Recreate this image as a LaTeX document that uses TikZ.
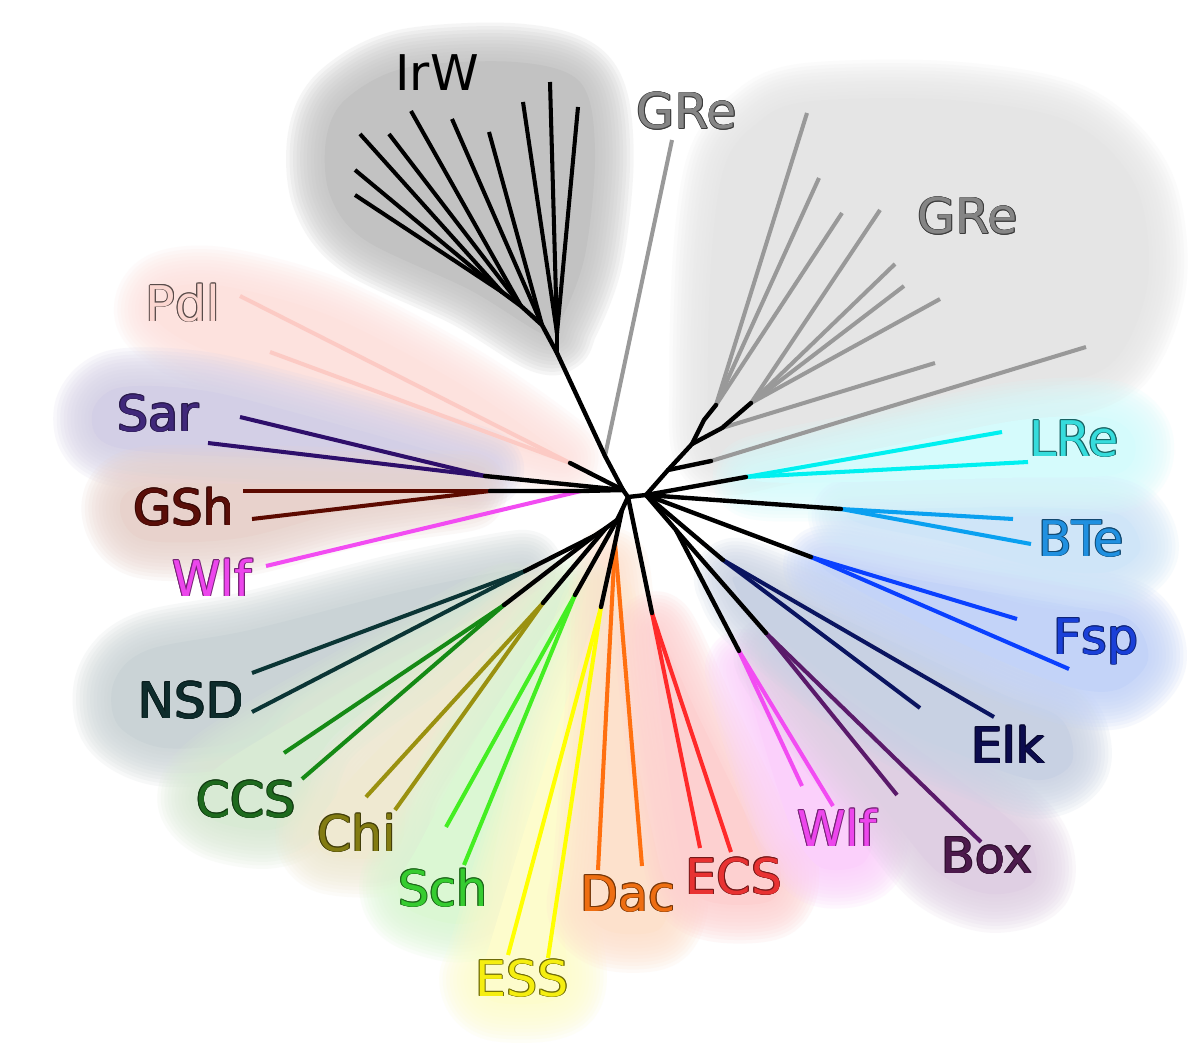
\documentclass[tikz,border=0pt]{standalone}
\usepackage{fontspec}
\setmainfont{DejaVu Sans}
\definecolor{bIrW}{HTML}{C2C2C2}
\definecolor{bGRe}{HTML}{E5E5E5}
\definecolor{bPdl}{HTML}{FDE2DE}
\definecolor{bSar}{HTML}{D3CFE6}
\definecolor{bGSh}{HTML}{E8D2CC}
\definecolor{bNSD}{HTML}{CAD3D6}
\definecolor{bCCS}{HTML}{D8EAD4}
\definecolor{bChi}{HTML}{EFE9D1}
\definecolor{bSch}{HTML}{DBF7D3}
\definecolor{bESS}{HTML}{FDFCCC}
\definecolor{bDac}{HTML}{FDE1CC}
\definecolor{bECS}{HTML}{FDD0D0}
\definecolor{bWlf}{HTML}{FBD0FB}
\definecolor{bBox}{HTML}{DFCFE3}
\definecolor{bElk}{HTML}{C8D1E3}
\definecolor{bFsp}{HTML}{C3D3F8}
\definecolor{bBTe}{HTML}{CFE5F8}
\definecolor{bLRe}{HTML}{D5FBFC}
\definecolor{lGRe}{HTML}{999999}
\definecolor{lPdl}{HTML}{FCCAC4}
\definecolor{lSar}{HTML}{2E0F6B}
\definecolor{lGSh}{HTML}{5C0A00}
\definecolor{lWlf}{HTML}{F24CF2}
\definecolor{lNSD}{HTML}{0B3535}
\definecolor{lCCS}{HTML}{158A15}
\definecolor{lChi}{HTML}{9A9110}
\definecolor{lSch}{HTML}{44EE22}
\definecolor{lESS}{HTML}{FFFF00}
\definecolor{lDac}{HTML}{FF7010}
\definecolor{lECS}{HTML}{FF2A2A}
\definecolor{lBox}{HTML}{5A1A6A}
\definecolor{lElk}{HTML}{0A1460}
\definecolor{lFsp}{HTML}{0A40FF}
\definecolor{lBTe}{HTML}{0AA0F0}
\definecolor{lLRe}{HTML}{00F0F0}
\definecolor{tGRe}{HTML}{858585}
\definecolor{tPdl}{HTML}{FBD6D0}
\definecolor{tSar}{HTML}{40287A}
\definecolor{tGSh}{HTML}{5A0E08}
\definecolor{tWlf}{HTML}{EC46EC}
\definecolor{tNSD}{HTML}{0E2C2C}
\definecolor{tCCS}{HTML}{1E6A1E}
\definecolor{tChi}{HTML}{827B12}
\definecolor{tSch}{HTML}{36CC30}
\definecolor{tESS}{HTML}{F5EE10}
\definecolor{tDac}{HTML}{EE6E12}
\definecolor{tECS}{HTML}{E83232}
\definecolor{tBox}{HTML}{4C1A4C}
\definecolor{tElk}{HTML}{0C0C4E}
\definecolor{tFsp}{HTML}{1A40D8}
\definecolor{tBTe}{HTML}{2090E0}
\definecolor{tLRe}{HTML}{36DCDC}
\tikzset{
  br/.style={line width=2.5pt,line cap=round,line join=round,black},
  tp/.style={line width=2.3pt,line cap=butt},
  lab/.style={anchor=base,inner sep=0pt,font=\fontsize{28}{30}\selectfont}
}
\newcommand\blob[2]{%
  \foreach \w in {44,40,36,32,28,24,20,16,12,8,4}{\draw[#1,line width=\w pt,opacity=0.15,line join=round] plot[smooth cycle,tension=0.55] coordinates {#2};}
  \fill[#1] plot[smooth cycle,tension=0.55] coordinates {#2};
}
\newcommand\lbl[6]{%
  \foreach \a in {0,45,...,315}{\node[lab,text=#5,shift={(\a:0.5pt)}] (#1-\a) at (#2,#3) {#6};}
  \node[lab,text=#4] (#1) at (#2,#3) {#6};
}
\begin{document}
\begin{tikzpicture}[x=0.02cm,y=-0.02cm]
\fill[white] (0,0) rectangle (1200,1054);
\useasboundingbox (0,0) rectangle (1200,1054);
% ---------- background blobs ----------
\blob{bGRe}{(755,125) (805,102) (950,100) (1070,122) (1135,185) (1148,280) (1115,360) (1045,388) (900,418) (780,450) (715,455) (708,380) (712,250) (725,165)}
\blob{bIrW}{(345,100) (405,68) (515,62) (580,82) (595,150) (585,255) (560,322) (545,335) (470,290) (365,240) (330,195) (326,140)}
\blob{bPdl}{(550,458) (460,432) (325,385) (205,350) (155,318) (165,290) (222,286) (330,316) (460,384) (555,450)}
\blob{bSar}{(475,470) (400,462) (250,458) (115,447) (92,415) (118,388) (200,390) (300,414) (468,462)}
\blob{bGSh}{(468,492) (350,510) (240,538) (145,540) (120,510) (142,486) (250,484) (400,488)}
\blob{bNSD}{(515,575) (420,620) (300,688) (248,738) (165,748) (118,725) (114,682) (148,650) (250,630) (400,592) (510,570)}
\blob{bCCS}{(496,614) (420,672) (330,740) (300,812) (268,830) (218,822) (196,800) (212,772) (280,728) (490,610)}
\blob{bChi}{(538,614) (470,702) (412,790) (402,842) (378,858) (328,855) (314,835) (330,804) (382,746) (530,610)}
\blob{bSch}{(570,608) (522,720) (494,856) (490,910) (458,924) (410,910) (398,884) (418,846) (474,742) (564,604)}
\blob{bESS}{(598,624) (576,760) (562,900) (568,982) (548,1002) (495,1002) (478,982) (488,950) (534,800) (592,626)}
\blob{bDac}{(610,566) (626,700) (658,858) (670,896) (658,930) (612,932) (586,910) (592,860) (604,700)}
\blob{bECS}{(656,630) (700,720) (758,838) (780,866) (772,900) (722,904) (692,890) (678,840) (659,700)}
\blob{bWlf}{(748,670) (800,742) (856,792) (874,830) (862,864) (822,868) (796,838) (778,790) (749,692)}
\blob{bBox}{(778,654) (880,722) (988,802) (1030,842) (1034,882) (990,894) (938,872) (886,810) (792,690)}
\blob{bElk}{(744,578) (850,622) (998,692) (1060,718) (1072,762) (1036,780) (964,756) (884,718) (762,622) (736,588)}
\blob{bFsp}{(834,564) (930,582) (1060,604) (1130,620) (1148,660) (1116,690) (1060,684) (950,638) (834,576)}
\blob{bBTe}{(854,512) (950,508) (1060,508) (1122,516) (1140,550) (1108,572) (1040,568) (950,543) (862,524)}
\blob{bLRe}{(764,472) (900,444) (1020,420) (1106,418) (1135,442) (1116,474) (1000,478) (850,482) (764,482)}
% ---------- coordinates ----------
\coordinate (A) at (623,490); \coordinate (C) at (628,497); \coordinate (B) at (646,495);
\coordinate (N1) at (605,456);
\coordinate (I0) at (557,353); \coordinate (Ia) at (557,333); \coordinate (Ib) at (542,325);
\coordinate (Ic) at (521,306); \coordinate (Id) at (502,292);
\coordinate (t1) at (360,134); \coordinate (t2) at (389,134); \coordinate (t3) at (411,111);
\coordinate (t4) at (452,119); \coordinate (t5) at (489,132); \coordinate (t6) at (523,102);
\coordinate (t7) at (550,82); \coordinate (t8) at (578,107); \coordinate (t9) at (355,170);
\coordinate (t10) at (355,195);
\coordinate (g0) at (672,140);
\coordinate (P) at (570,463); \coordinate (pd1) at (240,296); \coordinate (pd2) at (270,352);
\coordinate (S) at (485,476); \coordinate (sa1) at (240,417); \coordinate (sa2) at (208,443);
\coordinate (W) at (581,491); \coordinate (G) at (490,491); \coordinate (gs1) at (243,491); \coordinate (gs2) at (252,519);
\coordinate (wl) at (266,566);
\coordinate (D) at (622,510); \coordinate (E) at (617,520); \coordinate (F) at (606,528); \coordinate (F2) at (594,536);
\coordinate (H) at (615,543);
\coordinate (ns0) at (525,571); \coordinate (ns1) at (252,673); \coordinate (ns2) at (252,712);
\coordinate (cc0) at (504,605); \coordinate (cc1) at (284,753); \coordinate (cc2) at (302,779);
\coordinate (ch0) at (543,603); \coordinate (ch1) at (366,797); \coordinate (ch2) at (395,810);
\coordinate (sc0) at (575,595); \coordinate (sc1) at (446,827); \coordinate (sc2) at (464,865);
\coordinate (es0) at (601,607); \coordinate (es1) at (508,955); \coordinate (es2) at (548,958);
\coordinate (da1) at (598,870); \coordinate (da2) at (642,866);
\coordinate (ec0) at (652,613); \coordinate (ec1) at (700,848); \coordinate (ec2) at (731,852);
\coordinate (lr0) at (746,477); \coordinate (lr1) at (1002,432); \coordinate (lr2) at (1028,462);
\coordinate (bt0) at (841,509); \coordinate (bt1) at (1013,519); \coordinate (bt2) at (1031,544);
\coordinate (fs0) at (811,557); \coordinate (fs1) at (1017,619); \coordinate (fs2) at (1069,669);
\coordinate (el0) at (723,560); \coordinate (el1) at (920,708); \coordinate (el2) at (994,717);
\coordinate (T2) at (676,530);
\coordinate (bx0) at (766,633); \coordinate (bx1) at (897,795); \coordinate (bx2) at (981,842);
\coordinate (wr0) at (739,651); \coordinate (wr1) at (802,786); \coordinate (wr2) at (833,806);
\coordinate (R1) at (668,470); \coordinate (R2) at (692,444); \coordinate (R3) at (704,420);
\coordinate (K1) at (751,403); \coordinate (K2) at (716,405); \coordinate (K3) at (722,428); \coordinate (K4) at (711,461);
\coordinate (gr1) at (1086,347); \coordinate (gr2) at (935,363); \coordinate (gr3) at (880,210);
\coordinate (gr4) at (895,264); \coordinate (gr5) at (904,286); \coordinate (gr6) at (940,299);
\coordinate (gr7) at (807,113); \coordinate (gr8) at (819,178); \coordinate (gr9) at (842,213);
% ---------- coloured tip branches ----------
\draw[tp,lGRe] (N1) -- (g0);
\draw[tp,lGRe] (K4) -- (gr1); \draw[tp,lGRe] (K3) -- (gr2);
\draw[tp,lGRe] (K1) -- (gr3); \draw[tp,lGRe] (K1) -- (gr4); \draw[tp,lGRe] (K1) -- (gr5); \draw[tp,lGRe] (K1) -- (gr6);
\draw[tp,lGRe] (K2) -- (gr7); \draw[tp,lGRe] (K2) -- (gr8); \draw[tp,lGRe] (K2) -- (gr9);
\draw[tp,lPdl] (P) -- (pd1); \draw[tp,lPdl] (P) -- (pd2);
\draw[tp,lSar] (S) -- (sa1); \draw[tp,lSar] (S) -- (sa2);
\draw[tp,lGSh] (G) -- (gs1); \draw[tp,lGSh] (G) -- (gs2);
\draw[tp,lWlf] (W) -- (wl);
\draw[tp,lNSD] (ns0) -- (ns1); \draw[tp,lNSD] (ns0) -- (ns2);
\draw[tp,lCCS] (cc0) -- (cc1); \draw[tp,lCCS] (cc0) -- (cc2);
\draw[tp,lChi] (ch0) -- (ch1); \draw[tp,lChi] (ch0) -- (ch2);
\draw[tp,lSch] (sc0) -- (sc1); \draw[tp,lSch] (sc0) -- (sc2);
\draw[tp,lESS] (es0) -- (es1); \draw[tp,lESS] (es0) -- (es2);
\draw[tp,lDac] (H) -- (da1); \draw[tp,lDac] (H) -- (da2);
\draw[tp,lECS] (ec0) -- (ec1); \draw[tp,lECS] (ec0) -- (ec2);
\draw[tp,lWlf] (wr0) -- (wr1); \draw[tp,lWlf] (wr0) -- (wr2);
\draw[tp,lBox] (bx0) -- (bx1); \draw[tp,lBox] (bx0) -- (bx2);
\draw[tp,lElk] (el0) -- (el1); \draw[tp,lElk] (el0) -- (el2);
\draw[tp,lFsp] (fs0) -- (fs1); \draw[tp,lFsp] (fs0) -- (fs2);
\draw[tp,lBTe] (bt0) -- (bt1); \draw[tp,lBTe] (bt0) -- (bt2);
\draw[tp,lLRe] (lr0) -- (lr1); \draw[tp,lLRe] (lr0) -- (lr2);
% ---------- black internal branches ----------
\draw[tp,black] (Ia) -- (t6); \draw[tp,black] (Ia) -- (t7); \draw[tp,black] (Ia) -- (t8);
\draw[tp,black] (Ib) -- (t4); \draw[tp,black] (Ib) -- (t5);
\draw[tp,black] (Ic) -- (t3); \draw[tp,black] (Ic) -- (t2);
\draw[tp,black] (Id) -- (t1); \draw[tp,black] (Id) -- (t9); \draw[tp,black] (Id) -- (t10);
\draw[br] (Id) -- (Ic) -- (Ib) -- (I0); \draw[br] (Ia) -- (I0);
\draw[br] (I0) -- (N1) -- (A) -- (C) -- (B);
\draw[br] (A) -- (P); \draw[br] (A) -- (S); \draw[br] (A) -- (W) -- (G);
\draw[br] (C) -- (D) -- (E) -- (F) -- (F2);
\draw[br] (F2) -- (ns0); \draw[br] (F2) -- (cc0); \draw[br] (F) -- (ch0); \draw[br] (E) -- (sc0);
\draw[br] (D) -- (H) -- (es0); \draw[br] (C) -- (ec0);
\draw[br] (B) -- (lr0); \draw[br] (B) -- (bt0); \draw[br] (B) -- (fs0); \draw[br] (B) -- (el0);
\draw[br] (B) -- (T2) -- (bx0); \draw[br] (T2) -- (wr0);
\draw[br] (B) -- (R1) -- (R2) -- (R3) -- (K2); \draw[br] (R1) -- (K4); \draw[br] (R2) -- (K3) -- (K1);
% ---------- labels ----------
\node[lab,text=black] (lIrW) at (437,91) {IrW};
\lbl{lGRe1}{687}{129}{tGRe}{tGRe!45!black}{GRe}
\lbl{lGRe2}{968}{234}{tGRe}{tGRe!45!black}{GRe}
\lbl{lPdl}{183}{321}{tPdl}{tPdl!35!black}{Pdl}
\lbl{lSar}{158}{431}{tSar}{tSar!60!black}{Sar}
\lbl{lGSh}{184}{525}{tGSh}{tGSh!60!black}{GSh}
\lbl{lWlf1}{212}{596}{tWlf}{tWlf!50!black}{Wlf}
\lbl{lNSD}{191}{718}{tNSD}{tNSD!60!black}{NSD}
\lbl{lCCS}{246}{817}{tCCS}{tCCS!55!black}{CCS}
\lbl{lChi}{357}{851}{tChi}{tChi!50!black}{Chi}
\lbl{lSch}{443}{906}{tSch}{tSch!50!black}{Sch}
\lbl{lESS}{522}{996}{tESS}{tESS!45!black}{ESS}
\lbl{lDac}{628}{911}{tDac}{tDac!50!black}{Dac}
\lbl{lECS}{734}{894}{tECS}{tECS!50!black}{ECS}
\lbl{lWlf2}{837}{846}{tWlf}{tWlf!50!black}{Wlf}
\lbl{lBox}{987}{873}{tBox}{tBox!60!black}{Box}
\lbl{lElk}{1008}{763}{tElk}{tElk!60!black}{Elk}
\lbl{lFsp}{1096}{654}{tFsp}{tFsp!55!black}{Fsp}
\lbl{lBTe}{1081}{556}{tBTe}{tBTe!50!black}{BTe}
\lbl{lLRe}{1074}{456}{tLRe}{tLRe!45!black}{LRe}
\end{tikzpicture}
\end{document}
